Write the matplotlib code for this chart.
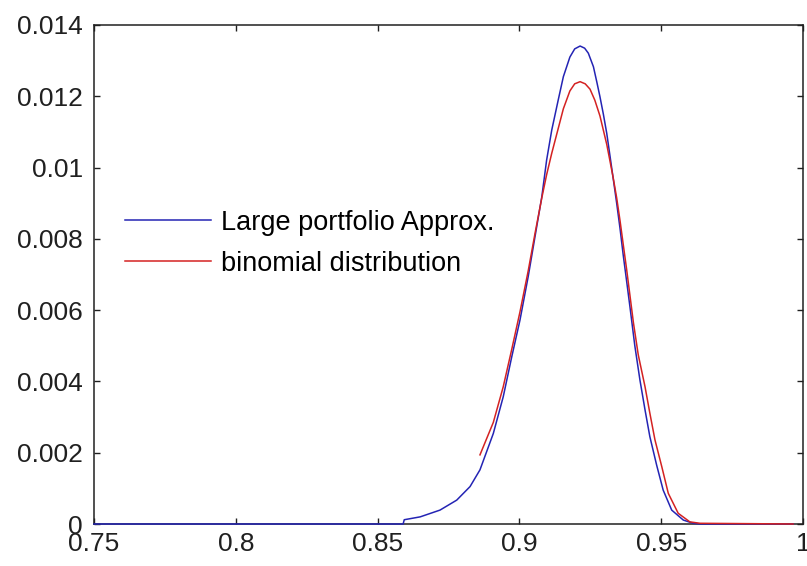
import numpy as np
import matplotlib
matplotlib.use('Agg')
import matplotlib.pyplot as plt

plt.rcParams['font.family'] = ['Liberation Sans', 'DejaVu Sans']

# Large portfolio approximation (blue), y in units of 1e-3
x_large = [0.750, 0.859, 0.8594, 0.8650, 0.8720, 0.8779, 0.8826, 0.8861, 0.8908,
           0.8943, 0.8973, 0.9002, 0.9031, 0.9055, 0.9079, 0.9096, 0.9114, 0.9137,
           0.9155, 0.9178, 0.9195, 0.9214, 0.9230, 0.9243, 0.9261, 0.9273, 0.9284,
           0.9296, 0.9308, 0.9319, 0.9331, 0.9343, 0.9355, 0.9366, 0.9378, 0.9390,
           0.9407, 0.9425, 0.9443, 0.9460, 0.9484, 0.9507, 0.9537, 0.9578, 0.9613,
           0.9640, 0.9965]
y_large = [0.0, 0.0, 0.12, 0.20, 0.39, 0.67, 1.05, 1.52, 2.54,
           3.57, 4.69, 5.72, 6.94, 8.06, 9.18, 10.21, 11.05, 11.90,
           12.55, 13.10, 13.33, 13.41, 13.35, 13.21, 12.83, 12.40, 11.99,
           11.50, 10.96, 10.35, 9.68, 9.00, 8.28, 7.55, 6.82, 6.08,
           5.00, 4.04, 3.20, 2.45, 1.65, 0.95, 0.39, 0.11, 0.02,
           0.0, 0.0]

# binomial distribution (red)
x_binom = [0.8861, 0.8908, 0.8943, 0.8973, 0.9002, 0.9031, 0.9055, 0.9079, 0.9096,
           0.9114, 0.9137, 0.9155, 0.9178, 0.9195, 0.9214, 0.9232, 0.9249, 0.9266,
           0.9284, 0.9296, 0.9308, 0.9319, 0.9331, 0.9343, 0.9355, 0.9366, 0.9378,
           0.9402, 0.9419, 0.9443, 0.9460, 0.9478, 0.9502, 0.9525, 0.9560, 0.9601,
           0.9637, 0.9965]
y_binom = [1.94, 2.85, 3.85, 4.90, 5.95, 7.10, 8.15, 9.15, 9.80,
           10.40, 11.10, 11.65, 12.15, 12.35, 12.41, 12.35, 12.20, 11.89,
           11.45, 11.05, 10.65, 10.20, 9.70, 9.15, 8.50, 7.85, 7.15,
           5.65, 4.75, 3.85, 3.11, 2.36, 1.61, 0.86, 0.30, 0.06,
           0.02, 0.0]

labels = ['Large portfolio Approx.', 'binomial distribution']
xticks = [0.75, 0.8, 0.85, 0.9, 0.95, 1.0]
xticklabels = ['0.75', '0.8', '0.85', '0.9', '0.95', '1']
yticks = [0, 0.002, 0.004, 0.006, 0.008, 0.01, 0.012, 0.014]
yticklabels = ['0', '0.002', '0.004', '0.006', '0.008', '0.01', '0.012', '0.014']

fig = plt.figure(figsize=(8.07, 5.66), dpi=100)
ax = fig.add_axes([94 / 807, 42 / 566, 709 / 807, 499 / 566])

ax.plot(x_large, np.array(y_large) * 1e-3, color='#2424b4', lw=1.1,
        label=labels[0], zorder=3, clip_on=False)
ax.plot(x_binom, np.array(y_binom) * 1e-3, color='#d42222', lw=1.1,
        label=labels[1], zorder=3, clip_on=False)

ax.set_xlim(0.75, 1.0)
ax.set_ylim(0, 0.014)
ax.set_xticks(xticks)
ax.set_xticklabels(xticklabels)
ax.set_yticks(yticks)
ax.set_yticklabels(yticklabels)
ax.tick_params(direction='in', length=4.5, width=1, top=True, right=True,
               labelsize=19, colors='#202020')
ax.tick_params(axis='x', pad=6)
ax.tick_params(axis='y', pad=8)
for s in ax.spines.values():
    s.set_linewidth(1.1)
    s.set_color('#202020')

ax.legend(loc='upper left', bbox_to_anchor=(0.044, 0.630), frameon=False,
          fontsize=19.5, handlelength=3.15, handletextpad=0.37, labelspacing=0.55,
          borderpad=0, borderaxespad=0)

fig.savefig('out.png', dpi=100, facecolor='white')
